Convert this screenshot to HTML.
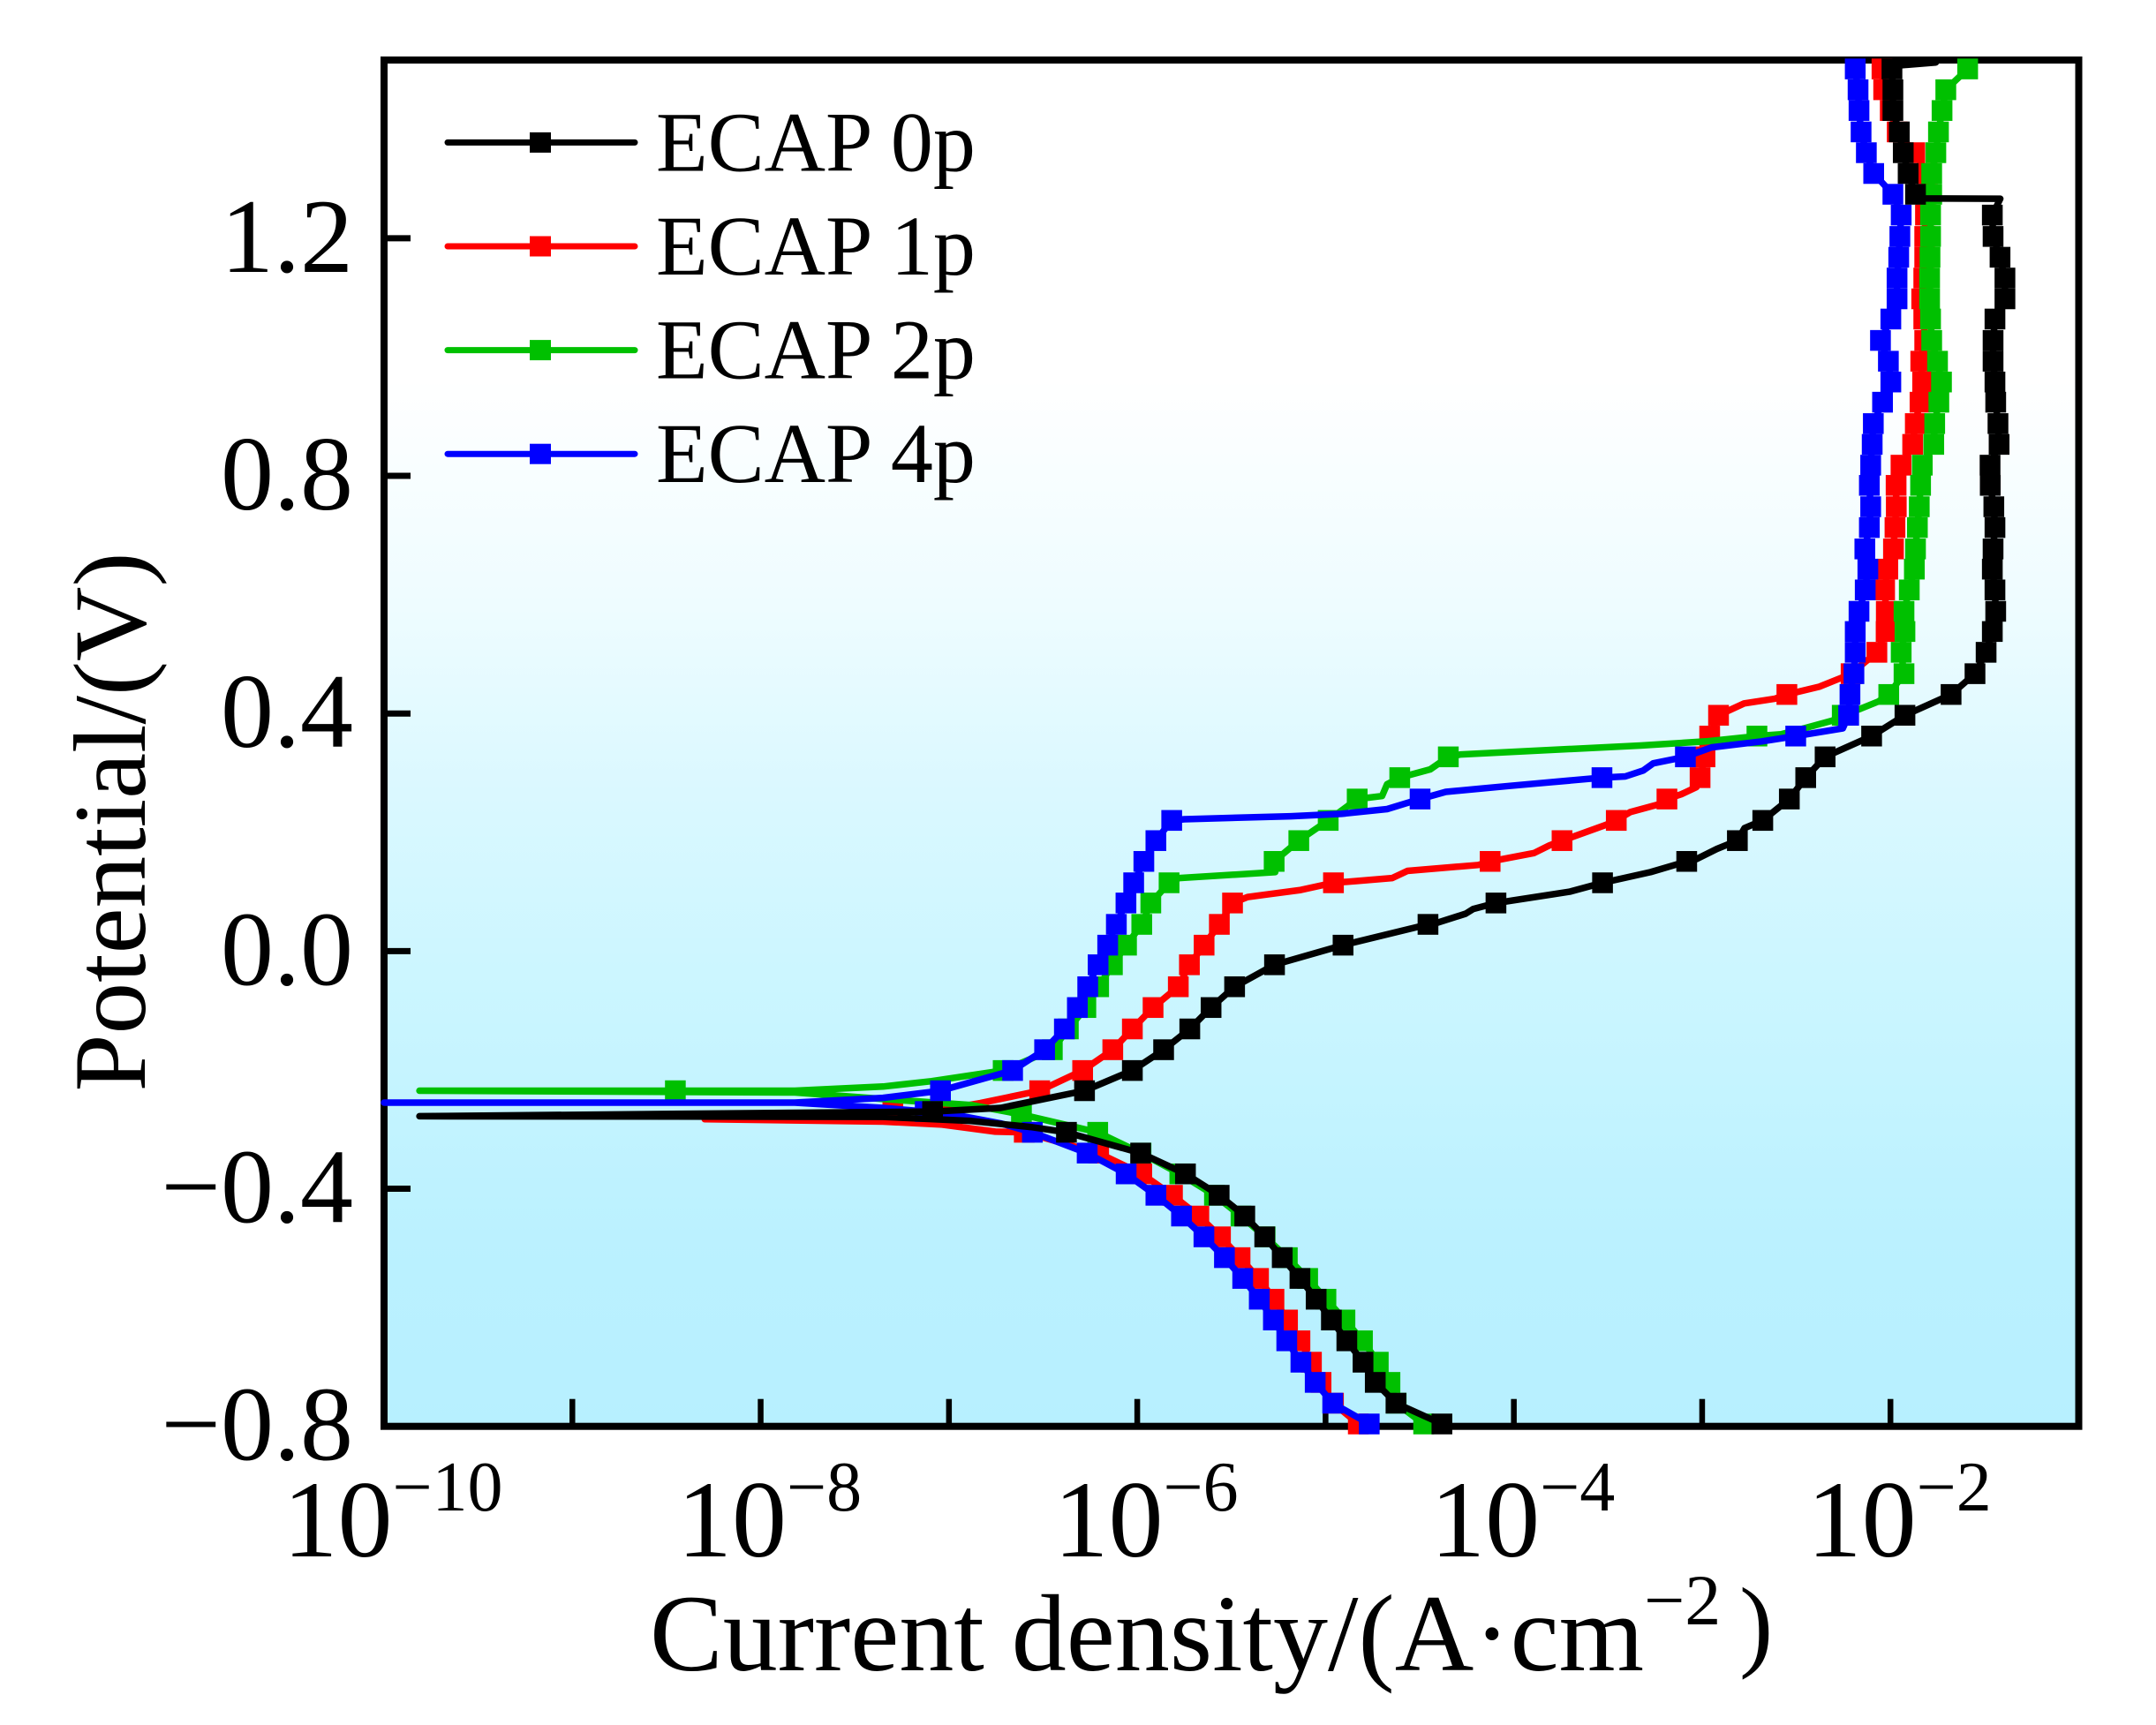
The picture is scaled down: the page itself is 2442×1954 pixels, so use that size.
<!DOCTYPE html>
<html lang="en">
<head>
<meta charset="utf-8">
<title>Potentiodynamic polarization curves</title>
<style>
html,body{margin:0;padding:0;background:#fff;}
svg{display:block;font-family:"Liberation Serif",serif;}
</style>
</head>
<body>
<svg id="chart" xmlns="http://www.w3.org/2000/svg" width="2442" height="1954" viewBox="0 0 2442 1954">
<defs>
<linearGradient id="bg" x1="0" y1="0" x2="0" y2="1">
<stop offset="0" stop-color="#ffffff"/>
<stop offset="0.234" stop-color="#ffffff"/>
<stop offset="0.40" stop-color="#eefcff"/>
<stop offset="0.537" stop-color="#daf8ff"/>
<stop offset="0.667" stop-color="#ccf6ff"/>
<stop offset="0.86" stop-color="#bbf1ff"/>
<stop offset="1" stop-color="#b7f0ff"/>
</linearGradient>
</defs>
<rect x="435" y="68" width="1919.5" height="1547.7" fill="url(#bg)" stroke="#000" stroke-width="8"/>
<g id="ticks"></g>
<g id="series"></g>
<g id="legend"></g>
<text transform="translate(164,931) rotate(-90)" text-anchor="middle" font-size="117">Potential/(V)</text>
<text x="736" y="1892" font-size="124">Current density/(A·cm<tspan font-size="82" dy="-52">−2</tspan></text>
<text x="1970" y="1878" font-size="115">)</text>
</svg>
<script>
// Axis domain
const logCurrentMin = -10;
const logCurrentMax = -1;
const potentialMin = -0.8;
const potentialMax = 1.5;

// Tick values
const xTickDecades = [-9, -8, -7, -6, -5, -4, -3, -2];
const xLabelDecades = [-10, -8, -6, -4, -2];
const xLabelExponents = ["−10", "−8", "−6", "−4", "−2"];
const yTicks = [-0.4, 0, 0.4, 0.8, 1.2];
const yLabelValues = [-0.8, -0.4, 0, 0.4, 0.8, 1.2];
const yLabels = ["−0.8", "−0.4", "0.0", "0.4", "0.8", "1.2"];

// Sampled potentials (V) shared by the marker rows
const anodicE = [1.485,1.450,1.415,1.379,1.344,1.309,1.274,1.239,1.203,1.168,1.133,1.098,1.064,1.028,0.993,0.958,0.924,0.888,0.853,0.818,0.784,0.748,0.713,0.677,0.643,0.608,0.572,0.538,0.503,0.467,0.432,0.397,0.362,0.327,0.292,0.256,0.220,0.186,0.151,0.115,0.081,0.045,0.010,-0.023,-0.060,-0.095,-0.131,-0.166,-0.201,-0.235];
const cathodicE = [-0.305,-0.340,-0.375,-0.411,-0.446,-0.481,-0.516,-0.551,-0.586,-0.621,-0.656,-0.692,-0.726,-0.761,-0.796];

// ECAP 0p: log10(current density)
const anodicI0p = [-1.992,-1.987,-1.987,-1.953,-1.932,-1.906,-1.867,-1.459,-1.455,-1.418,-1.392,-1.392,-1.445,-1.455,-1.455,-1.445,-1.441,-1.429,-1.423,-1.471,-1.470,-1.451,-1.445,-1.455,-1.459,-1.445,-1.441,-1.459,-1.492,-1.551,-1.678,-1.923,-2.100,-2.347,-2.450,-2.537,-2.678,-2.813,-3.082,-3.529,-4.095,-4.456,-4.907,-5.271,-5.483,-5.608,-5.721,-5.860,-6.026,-6.280];
const cathodicI0p = [-6.376,-5.982,-5.744,-5.565,-5.429,-5.323,-5.230,-5.136,-5.050,-4.969,-4.887,-4.801,-4.736,-4.626,-4.382];
const tailE0p = [-0.296,-0.286,-0.279,-0.278,-0.270,-0.264];
const tailI0p = [-6.567,-6.881,-7.350,-9.812,-7.087,-6.726];
const tailMarks0p = [4];
const extraE0p = [1.496,1.490,1.267,1.2665,0.207,0.172,0.155,0.133,0.100,0.071,0.063,0.048];
const extraI0p = [-1.759,-1.990,-1.867,-1.417,-2.775,-2.922,-3.030,-3.274,-3.704,-4.215,-4.256,-4.404];

// ECAP 1p
const anodicI1p = [-2.045,-2.036,-2.001,-1.964,-1.871,-1.803,-1.811,-1.814,-1.818,-1.818,-1.823,-1.834,-1.823,-1.818,-1.839,-1.829,-1.843,-1.868,-1.882,-1.944,-1.970,-1.969,-1.976,-1.984,-2.014,-2.031,-2.022,-2.023,-2.072,-2.209,-2.550,-2.913,-2.960,-2.985,-3.011,-3.187,-3.456,-3.744,-4.126,-4.958,-5.494,-5.564,-5.645,-5.723,-5.782,-5.916,-6.026,-6.130,-6.290,-6.518];
const cathodicI1p = [-6.600,-6.205,-5.976,-5.813,-5.673,-5.558,-5.454,-5.356,-5.274,-5.202,-5.136,-5.075,-5.024,-4.958,-4.826];
const tailE1p = [-0.304,-0.292,-0.287,-0.283,-0.270,-0.267,-0.256];
const tailI1p = [-6.754,-7.036,-7.350,-8.297,-7.298,-7.036,-6.834];
const tailMarks1p = [4];
const extraE1p = [0.460,0.445,0.425,0.417,0.276,0.264,0.247,0.234,0.212,0.178,0.165,0.145,0.135,0.123,0.118,0.103,0.091];
const extraI1p = [-2.261,-2.378,-2.613,-2.777,-3.030,-3.111,-3.233,-3.382,-3.515,-3.811,-3.893,-4.189,-4.565,-4.646,-4.836,-5.131,-5.414];

// ECAP 2p
const anodicI2p = [-1.590,-1.706,-1.726,-1.745,-1.759,-1.781,-1.781,-1.787,-1.787,-1.790,-1.792,-1.792,-1.787,-1.781,-1.750,-1.729,-1.743,-1.765,-1.770,-1.831,-1.840,-1.847,-1.857,-1.867,-1.873,-1.900,-1.928,-1.923,-1.943,-1.928,-2.009,-2.256,-2.709,-4.348,-4.606,-4.832,-4.986,-5.142,-5.273,-5.831,-5.928,-5.976,-6.057,-6.132,-6.205,-6.273,-6.366,-6.451,-6.712,null];
const cathodicI2p = [-6.210,-5.980,-5.774,-5.590,-5.449,-5.321,-5.203,-5.095,-4.998,-4.897,-4.804,-4.720,-4.658,-4.625,-4.479];
const tailE2p = [-0.275,-0.259,-0.249,-0.238,-0.235,-0.235,-0.235,-0.228,-0.219];
const tailI2p = [-6.615,-6.881,-7.350,-7.819,-9.812,-8.453,-7.819,-7.350,-7.092];
const tailMarks2p = [0,5];
const extraE2p = [0.420,0.408,0.388,0.375,0.365,0.353,0.346,0.331,0.306,0.281,0.261,0.133,0.123];
const extraI2p = [-2.065,-2.159,-2.308,-2.458,-2.581,-2.979,-3.327,-4.282,-4.444,-4.673,-4.700,-5.267,-5.777];

// ECAP 4p
const anodicI4p = [-2.187,-2.172,-2.167,-2.156,-2.128,-2.089,-1.987,-1.943,-1.950,-1.956,-1.965,-1.965,-1.998,-2.053,-2.011,-1.998,-2.042,-2.091,-2.097,-2.105,-2.112,-2.105,-2.112,-2.136,-2.120,-2.134,-2.167,-2.187,-2.187,-2.194,-2.215,-2.222,-2.503,-3.089,-3.532,-4.498,-5.817,-5.901,-5.965,-6.019,-6.060,-6.111,-6.157,-6.208,-6.263,-6.318,-6.387,-6.492,-6.662,-7.045];
const cathodicI4p = [-6.557,-6.266,-6.059,-5.901,-5.765,-5.646,-5.537,-5.440,-5.352,-5.277,-5.206,-5.131,-5.055,-4.962,-4.768];
const tailE4p = [-0.290,-0.276,-0.270,-0.264,-0.255,-0.255,-0.255,-0.247,-0.237];
const tailI4p = [-6.726,-6.961,-7.126,-7.350,-7.819,-10,-7.819,-7.350,-7.092];
const tailMarks4p = [2];
const extraE4p = [0.375,0.353,0.343,0.316,0.304,0.294,0.278,0.268,0.239,0.231,0.227,0.222];
const extraI4p = [-2.253,-2.683,-2.950,-3.260,-3.313,-3.408,-4.027,-4.362,-4.673,-4.916,-5.184,-5.750];

const NS = "http://www.w3.org/2000/svg";
const plot = {left: 435, right: 2354.5, top: 68, bottom: 1615.7};
const MARK = 23.5;

function xScale(logI) {
  return plot.left + (logI - logCurrentMin) / (logCurrentMax - logCurrentMin) * (plot.right - plot.left);
}
function yScale(e) {
  return plot.bottom - (e - potentialMin) / (potentialMax - potentialMin) * (plot.bottom - plot.top);
}
function mk(tag, attrs, parent) {
  const el = document.createElementNS(NS, tag);
  for (const k in attrs) el.setAttribute(k, attrs[k]);
  parent.appendChild(el);
  return el;
}

// Ticks and tick labels
const tickLayer = document.getElementById("ticks");
xTickDecades.forEach(function (d) {
  const t = mk("line", {x1: xScale(d), x2: xScale(d), y1: plot.bottom, y2: plot.bottom - 31, stroke: "#000", "stroke-width": 6.5}, tickLayer);
  
  
});
yTicks.forEach(function (v) {
  const t = mk("line", {x1: plot.left, x2: plot.left + 30, y1: yScale(v), y2: yScale(v), stroke: "#000", "stroke-width": 7}, tickLayer);
  
  
});
xLabelDecades.forEach(function (d, i) {
  const t = mk("text", {x: xScale(d) + 10, y: 1763, "text-anchor": "middle", "font-size": 124}, tickLayer);
  
  
  t.appendChild(document.createTextNode("10"));
  const s = mk("tspan", {"font-size": 80, dy: -52}, t);
  s.textContent = xLabelExponents[i];
});
yLabelValues.forEach(function (v, i) {
  const t = mk("text", {x: 400, y: yScale(v) + 38, "text-anchor": "end", "font-size": 120}, tickLayer);
  
  
  t.textContent = yLabels[i];
});

// Curves, painted in the reference's stacking order
const seriesList = [
  {name: "ecap-1p", color: "#ff0000", aI: anodicI1p, cI: cathodicI1p, tE: tailE1p, tI: tailI1p, tM: tailMarks1p, xE: extraE1p, xI: extraI1p},
  {name: "ecap-2p", color: "#00c000", aI: anodicI2p, cI: cathodicI2p, tE: tailE2p, tI: tailI2p, tM: tailMarks2p, xE: extraE2p, xI: extraI2p},
  {name: "ecap-4p", color: "#0000ff", aI: anodicI4p, cI: cathodicI4p, tE: tailE4p, tI: tailI4p, tM: tailMarks4p, xE: extraE4p, xI: extraI4p},
  {name: "ecap-0p", color: "#000000", aI: anodicI0p, cI: cathodicI0p, tE: tailE0p, tI: tailI0p, tM: tailMarks0p, xE: extraE0p, xI: extraI0p}
];
const seriesLayer = document.getElementById("series");

function drawMarker(parent, e, i, color) {
  const m = mk("rect", {x: xScale(i) - MARK / 2, y: yScale(e) - MARK / 2, width: MARK, height: MARK, fill: color}, parent);
  
  
}

seriesList.forEach(function (s) {
  const g = mk("g", {}, seriesLayer);
  
  

  const cathodic = cathodicE.map(function (e, k) { return {e: e, i: s.cI[k]}; }).sort(function (a, b) { return a.e - b.e; });
  const tail = s.tE.map(function (e, k) { return {e: e, i: s.tI[k]}; });
  const anodicMarked = anodicE.map(function (e, k) { return {e: e, i: s.aI[k]}; }).filter(function (p) { return p.i !== null; });
  const anodic = anodicMarked.concat(s.xE.map(function (e, k) { return {e: e, i: s.xI[k]}; })).sort(function (a, b) { return a.e - b.e; });

  const all = cathodic.concat(tail, anodic);
  const d = all.map(function (p) { return xScale(p.i).toFixed(1) + "," + yScale(p.e).toFixed(1); }).join(" ");
  const line = mk("polyline", {points: d, fill: "none", stroke: s.color, "stroke-width": 7.5, "stroke-linejoin": "round", "stroke-linecap": "round"}, g);
  
  

  cathodic.forEach(function (p) { drawMarker(g, p.e, p.i, s.color); });
  s.tM.forEach(function (k) { drawMarker(g, tail[k].e, tail[k].i, s.color); });
  anodicMarked.forEach(function (p) { drawMarker(g, p.e, p.i, s.color); });
});

// Legend
const legendNames = ["ECAP 0p", "ECAP 1p", "ECAP 2p", "ECAP 4p"];
const legendColors = ["#000000", "#ff0000", "#00c000", "#0000ff"];
const legendLayer = document.getElementById("legend");
legendNames.forEach(function (label, i) {
  const yLine = 161.4 + i * 117.6;
  const g = mk("g", {}, legendLayer);
  
  
  const l = mk("line", {x1: 507, x2: 719, y1: yLine, y2: yLine, stroke: legendColors[i], "stroke-width": 7, "stroke-linecap": "round"}, g);
  
  
  const m = mk("rect", {x: 600, y: yLine - 11.5, width: 24, height: 23, fill: legendColors[i]}, g);
  
  
  const t = mk("text", {x: 743, y: yLine + 32, "font-size": 96}, g);
  
  
  t.textContent = label;
});
</script>
</body>
</html>
